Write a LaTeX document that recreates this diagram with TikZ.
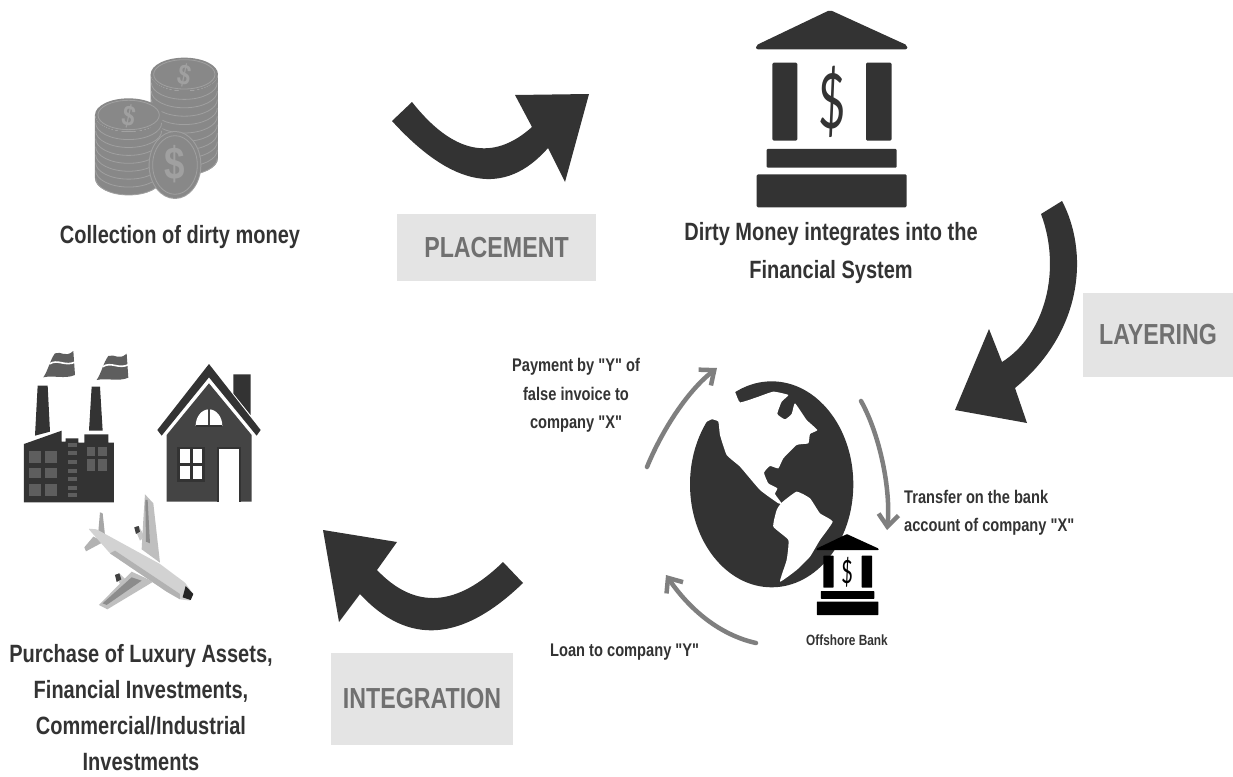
\documentclass[tikz,border=0pt]{standalone}
\usepackage{fontspec}
\setmainfont{Liberation Sans}
\newfontfamily\labfont[FakeStretch=0.80]{Liberation Sans Bold}
\newfontfamily\thinfont{Lato}
\usetikzlibrary{arrows.meta}
\definecolor{ink}{HTML}{333333}
\definecolor{coin}{HTML}{888888}
\definecolor{coinlight}{HTML}{A0A0A0}
\definecolor{boxgray}{HTML}{E4E4E4}
\definecolor{steptext}{HTML}{707070}
\definecolor{looparrow}{HTML}{7F7F7F}
\tikzset{
  caption/.style={font=\labfont\fontsize{25}{37.5}\selectfont,text=ink,align=center,inner sep=0pt},
  tightcap/.style={font=\labfont\fontsize{25}{36}\selectfont,text=ink,align=center,inner sep=0pt},
  smallcap/.style={font=\labfont\fontsize{18.3}{28.5}\selectfont,text=ink,align=center,inner sep=0pt},
  leftcap/.style={font=\labfont\fontsize{18.3}{28.5}\selectfont,text=ink,align=left,inner sep=0pt},
  stepbox/.style={fill=boxgray,inner sep=0pt,font=\labfont\fontsize{29}{32}\selectfont,text=steptext,align=center},
  bigarrow/.style={fill=ink,draw=none},
  looparr/.style={draw=looparrow,line width=4.5pt,line cap=round,-{Straight Barb[length=12pt,width=20pt,line width=4.5pt]}},
}
\newcommand{\bankicon}[4]{% x y scale colour
  \begin{scope}[shift={(#1,#2)},x=#3pt,y=-#3pt]
    \fill[#4,rounded corners=#3*6pt] (48,148)--(48,136)--(270,30)--(502,136)--(502,148)--cycle;
    \fill[#4,rounded corners=#3*4pt] (97,188) rectangle (172,422);
    \fill[#4,rounded corners=#3*4pt] (378,188) rectangle (455,422);
    \fill[#4,rounded corners=#3*3pt] (80,447) rectangle (470,503);
    \fill[#4,rounded corners=#3*4pt] (50,523) rectangle (500,622);
  \end{scope}}
\newcommand{\coinstack}[4]{% cx top bottom ribs
  \fill[coin] (#1-101,#2) -- (#1-101,#3) arc[x radius=101,y radius=-50,start angle=180,end angle=360] -- (#1+101,#2) arc[x radius=101,y radius=50,start angle=0,end angle=180] -- cycle;
  \foreach \k in {1,...,#4}{
    \pgfmathsetmacro{\yy}{#2+\k*(#3-#2)/#4}
    \draw[coinlight,line width=0.8pt] (#1-99,\yy) arc[x radius=99,y radius=-50,start angle=180,end angle=360];
  }
  \fill[coin] (#1,#2) ellipse[x radius=101,y radius=50];
  \draw[coinlight,line width=0.8pt] (#1,#2) ellipse[x radius=92,y radius=44];
}
\begin{document}
\begin{tikzpicture}[x=1pt,y=-1pt]
\useasboundingbox (0,0) rectangle (1233,776);
\fill[white] (0,0) rectangle (1233,776);

% coins
\begin{scope}[shift={(60,40)},x=0.3333pt,y=-0.3333pt]
  \coinstack{373}{103}{355}{10}
  \coinstack{206}{225}{415}{8}
  \fill[coinlight] (345,375) ellipse[x radius=79,y radius=102];
  \fill[coin] (345,375) ellipse[x radius=76,y radius=99];
  \draw[coinlight,line width=0.8pt] (345,375) ellipse[x radius=67,y radius=88];
  \node[rotate=-12,text=coinlight,font=\labfont\fontsize{29}{30}\selectfont,inner sep=0pt] (coinA) at (373,105) {\$};
  \node[rotate=-12,text=coinlight,font=\labfont\fontsize{29}{30}\selectfont,inner sep=0pt] (coinB) at (206,228) {\$};
  \node[text=coinlight,font=\labfont\fontsize{46}{48}\selectfont,inner sep=0pt] (coinC) at (345,372) {\$};
\end{scope}

% big bank
\bankicon{740}{0}{0.3333}{ink}
\node[text=ink,font=\thinfont\fontsize{76}{80}\selectfont,inner sep=0pt,xscale=0.62] (bigdollar) at (832,102) {\$};

% captions and steps
\node[caption] (collect) at (180,237.5) {Collection of dirty money};
\node[stepbox,minimum width=199pt,minimum height=67pt] (placement) at (496.5,247.5) {PLACEMENT};
\node[caption] (dirty) at (831,252.8) {Dirty Money integrates into the\\Financial System};
\node[stepbox,minimum width=150pt,minimum height=84pt] (layering) at (1158,335) {LAYERING};
\node[stepbox,minimum width=182pt,minimum height=92pt] (integration) at (422,699) {INTEGRATION};
\node[tightcap] (purchase) at (141,708) {Purchase of Luxury Assets,\\Financial Investments,\\Commercial/Industrial\\Investments};
\node[smallcap] (payment) at (576,395.5) {Payment by "Y" of\\false invoice to\\company "X"};
\node[leftcap,anchor=west] (transfer) at (904,513) {Transfer on the bank\\account of company "X"};
\node[smallcap,anchor=west] (loan) at (550,652) {Loan to company "Y"};
\node[font=\labfont\fontsize{14.8}{16}\selectfont,text=ink,inner sep=0pt] (offshore) at (847,640) {Offshore Bank};

% big arrows
\path[bigarrow] (392,121) -- (412,102) .. controls (453,154) and (493,162) .. (532,127) -- (515,95) -- (589,94) -- (565,182) -- (548,148) .. controls (505,197) and (453,188) .. (392,121) -- cycle;
\path[bigarrow] (1041,214) -- (1062,201) .. controls (1088,250) and (1085,330) .. (1015,388) -- (1027,423) -- (955,410) -- (989,329) -- (1002,362) .. controls (1045,335) and (1062,270) .. (1041,214) -- cycle;
\path[bigarrow] (523,583) -- (503,562) .. controls (457,607) and (415,610) .. (377,570) -- (397,542) -- (323,530) -- (339,622) -- (360,594) .. controls (408,646) and (462,642) .. (523,583) -- cycle;

% globe
\begin{scope}[shift={(640,340)},x=0.3333pt,y=-0.3333pt]
  \fill[ink] (395,433) ellipse[x radius=245,y radius=309];
  \fill[white] plot[smooth cycle,tension=0.25] coordinates {(260,110) (285,155) (300,187) (350,172) (400,155) (445,165) (425,185) (412,222) (435,238) (455,222) (465,190) (500,240) (532,270) (510,282) (505,310) (470,315) (430,355) (415,385) (390,378) (372,398) (385,430) (412,445) (405,462) (425,490) (415,490) (360,450) (300,380) (260,345) (240,285) (235,245) (215,238) (190,250) (150,250) (150,150)};
  \fill[white] plot[smooth cycle,tension=0.25] coordinates {(425,488) (470,455) (510,475) (540,520) (578,545) (540,600) (510,650) (470,690) (420,725) (440,660) (445,600) (400,560) (410,510)};
\end{scope}

% offshore bank
\bankicon{810}{530}{0.1367}{black}
\node[text=black,font=\thinfont\fontsize{32}{34}\selectfont,inner sep=0pt,xscale=0.62] (smalldollar) at (847,572) {\$};

% loop arrows
\coordinate (a1) at (861,401);
\coordinate (a1c) at (880,435);
\coordinate (a1d) at (891,490);
\coordinate (a2) at (887,530);
\coordinate (b1) at (647,467);
\coordinate (b1c) at (660,435);
\coordinate (b1d) at (685,393);
\coordinate (b2) at (717,368);
\coordinate (c1) at (756,643);
\coordinate (c1c) at (720,635);
\coordinate (c1d) at (690,610);
\coordinate (c2) at (666,575);
\draw[looparr] (a1) .. controls (a1c) and (a1d) .. (a2);
\draw[looparr] (b1) .. controls (b1c) and (b1d) .. (b2);
\draw[looparr] (c1) .. controls (c1c) and (c1d) .. (c2);

% factory, house, plane
\begin{scope}[shift={(0,340)},x=0.3333pt,y=-0.3333pt]
  \definecolor{fwin}{HTML}{5E5E5E}
  \definecolor{hbody}{HTML}{444444}
  \fill[ink] (113,137)--(143,137)--(150,275)--(105,287)--cycle;
  \fill[ink] (275,140)--(300,140)--(308,272)--(267,272)--cycle;
  \fill[ink] (72,487)--(72,312)--(185,272)--(185,305)--(197,305)--(197,295)--(235,295)--(235,308)--(253,308)--(253,283)--(325,283)--(325,308)--(342,308)--(342,487)--cycle;
  \foreach \yy/\yh in {333/368,383/415,432/467}{
    \fill[fwin] (87,\yy) rectangle (123,\yh);
    \fill[fwin] (135,\yy) rectangle (170,\yh);
  }
  \foreach \yy in {308,333,360,387,412,438,460}{
    \fill[fwin] (203,\yy) rectangle (232,\yy+12);
  }
  \fill[fwin] (260,322) rectangle (285,347);
  \fill[fwin] (295,322) rectangle (322,347);
  \fill[fwin] (260,357) rectangle (285,392);
  \fill[fwin] (295,357) rectangle (322,392);
  \foreach \dx/\dy in {0/0,160/8}{
    \begin{scope}[shift={(\dx,\dy)}]
      \fill[fwin] (165,40) .. controls (185,32) and (195,55) .. (220,33) -- (225,105) .. controls (195,118) and (160,105) .. (130,112) .. controls (145,90) and (150,60) .. (165,40) -- cycle;
      \draw[white,line width=1.6pt] (148,72) .. controls (175,55) and (195,82) .. (228,65);
    \end{scope}
  }
  % house
  \fill[hbody] (500,285)--(627,130)--(755,285)--(755,485)--(500,485)--cycle;
  \fill[ink] (700,103)--(752,103)--(752,225)--(700,160)--cycle;
  \fill[ink] (472,270)--(627,72)--(782,270)--(770,287)--(627,112)--(485,287)--cycle;
  \fill[white] (587,258) arc[x radius=40,y radius=-50,start angle=180,end angle=0] -- cycle;
  \draw[hbody,line width=1.6pt] (627,208)--(627,258);
  \draw[ink,line width=1.6pt] (587,258) -- (667,258);
  \fill[ink] (532,320) rectangle (614,426);
  \fill[white] (540,328) rectangle (570,370);
  \fill[white] (578,328) rectangle (606,370);
  \fill[white] (540,378) rectangle (570,418);
  \fill[white] (578,378) rectangle (606,418);
  \fill[ink] (650,320) rectangle (722,485);
  \fill[white] (656,327) rectangle (717,485);
  % plane
  \fill[gray!70] (300,517)--(308,520)--(315,585)--(295,575)--cycle;
  \fill[gray!60] (280,590)--(312,605)--(258,634)--(253,622)--cycle;
  \fill[gray!45] (403,562)--(416,558)--(434,590)--(420,602)--cycle;
  \fill[black!75] (403,562)--(416,558)--(420,575)--(408,582)--cycle;
  \fill[gray!45] (345,705)--(358,700)--(380,722)--(362,735)--cycle;
  \fill[black!75] (345,705)--(358,700)--(364,718)--(350,726)--cycle;
  \fill[gray!50] (435,463)--(460,490)--(480,668)--(425,628)--(430,540)--cycle;
  \fill[gray!90] (436,480)--(443,480)--(450,610)--(438,605)--cycle;
  \fill[gray!50] (460,725)--(322,808)--(297,795)--(395,695)--cycle;
  \fill[gray!90] (425,722)--(320,795)--(308,790)--(395,712)--cycle;
  \fill[gray!35,rounded corners=1pt] (265,566)--(290,568)--(480,672)--(555,728)--(580,762)--(572,782)--(540,778)--(500,755)--(330,640)--cycle;
  \fill[gray!60] (330,640)--(345,632)--(540,762)--(540,778)--(500,755)--cycle;
  \fill[black!85] (557,738)--(580,762)--(572,780)--(548,772)--cycle;
\end{scope}
\end{tikzpicture}
\end{document}
